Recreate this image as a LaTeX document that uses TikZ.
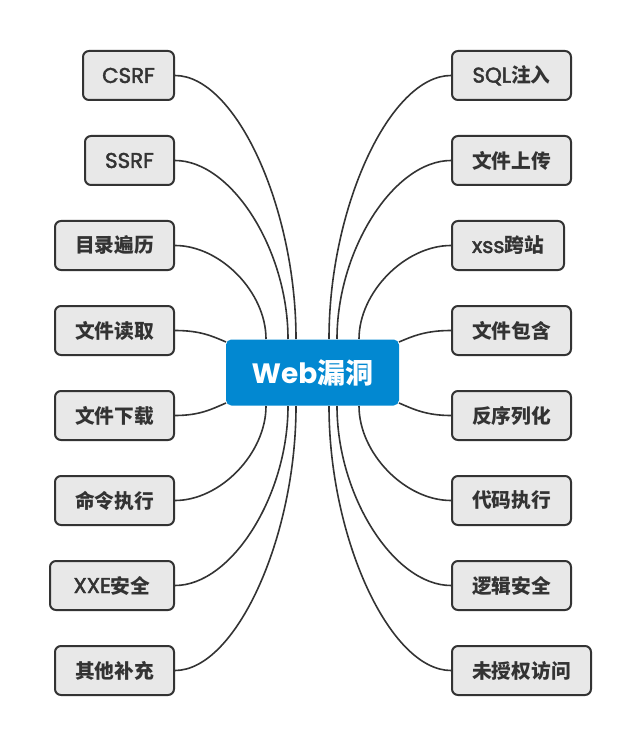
\documentclass[tikz,border=0pt]{standalone}
\usepackage{fontspec}
\newfontfamily\cjk{Noto Sans CJK SC}
\newfontfamily\lat{Poppins}
\newfontfamily\latm{Poppins}[Scale=1.08]
\definecolor{boxfill}{HTML}{E8E8E8}
\definecolor{boxline}{HTML}{333333}
\definecolor{hubblue}{HTML}{0288D1}
\newcommand{\zh}[1]{{\cjk\bfseries #1}}
\newcommand{\la}[1]{{\latm\special{pdf:literal direct 2 Tr 0.35 w}#1\special{pdf:literal direct 0 Tr}}}
\begin{document}
\begin{tikzpicture}[x=0.75pt,y=-0.75pt,
  leaf/.style={draw=boxline, fill=boxfill, line width=1.5pt, rounded corners=4.5pt,
    minimum height=36.75pt, inner sep=0pt, text=boxline, font=\fontsize{14.8}{17}\selectfont},
  hubbox/.style={fill=hubblue, rounded corners=4pt, minimum width=129.75pt, minimum height=49.5pt,
    inner sep=0pt, text=white, font=\fontsize{21}{24}\selectfont\bfseries},
  link/.style={draw=boxline, line width=1.2pt}]
\useasboundingbox (0,0) rectangle (640,745);
% left leaves
\node[leaf, minimum width=68.25pt, anchor=east] (csrf) at (175,75.5) {\la{CSRF}};
\node[leaf, minimum width=66.75pt, anchor=east] (ssrf) at (175,160.5) {\la{SSRF}};
\node[leaf, minimum width=89.25pt, anchor=east] (mulu) at (175,245.5) {\zh{目录遍历}};
\node[leaf, minimum width=89.25pt, anchor=east] (duqu) at (175,330.5) {\zh{文件读取}};
\node[leaf, minimum width=89.25pt, anchor=east] (xiazai) at (175,415.5) {\zh{文件下载}};
\node[leaf, minimum width=89.25pt, anchor=east] (mingling) at (175,500.5) {\zh{命令执行}};
\node[leaf, minimum width=93pt, anchor=east] (xxe) at (175,585.5) {\la{XXE}\zh{安全}};
\node[leaf, minimum width=89.25pt, anchor=east] (qita) at (175,670.5) {\zh{其他补充}};
% right leaves
\node[leaf, minimum width=89.25pt, anchor=west] (sql) at (451,75.5) {\la{SQL}\zh{注入}};
\node[leaf, minimum width=89.25pt, anchor=west] (shangchuan) at (451,160.5) {\zh{文件上传}};
\node[leaf, minimum width=84pt, anchor=west] (xss) at (451,245.5) {\la{xss}\zh{跨站}};
\node[leaf, minimum width=89.25pt, anchor=west] (baohan) at (451,330.5) {\zh{文件包含}};
\node[leaf, minimum width=89.25pt, anchor=west] (fanxu) at (451,415.5) {\zh{反序列化}};
\node[leaf, minimum width=89.25pt, anchor=west] (daima) at (451,500.5) {\zh{代码执行}};
\node[leaf, minimum width=89.25pt, anchor=west] (luoji) at (451,585.5) {\zh{逻辑安全}};
\node[leaf, minimum width=104.25pt, anchor=west] (weishouquan) at (451,670.5) {\zh{未授权访问}};
% attach points on hub
\coordinate (tl1) at (296,339);
\coordinate (tl2) at (288,339);
\coordinate (tl3) at (266,339);
\coordinate (sl1) at (226,342);
\coordinate (sl2) at (226,403);
\coordinate (bl3) at (266,406);
\coordinate (bl2) at (288,406);
\coordinate (bl1) at (296,406);
\coordinate (tr1) at (329,339);
\coordinate (tr2) at (337,339);
\coordinate (tr3) at (359,339);
\coordinate (sr1) at (399,342);
\coordinate (sr2) at (399,403);
\coordinate (br3) at (359,406);
\coordinate (br2) at (337,406);
\coordinate (br1) at (329,406);
% left links
\draw[link] (csrf.east) .. controls +(60.5,0) and +(0,-131.75) .. (tl1);
\draw[link] (ssrf.east) .. controls +(56.5,0) and +(0,-89.25) .. (tl2);
\draw[link] (mulu.east) .. controls +(45.5,0) and +(0,-46.75) .. (tl3);
\draw[link] (duqu.east) .. controls +(25,0) and +(-14,-6) .. (sl1);
\draw[link] (xiazai.east) .. controls +(25,0) and +(-14,6) .. (sl2);
\draw[link] (mingling.east) .. controls +(45.5,0) and +(0,47.25) .. (bl3);
\draw[link] (xxe.east) .. controls +(56.5,0) and +(0,89.75) .. (bl2);
\draw[link] (qita.east) .. controls +(60.5,0) and +(0,132.25) .. (bl1);
% right links
\draw[link] (sql.west) .. controls +(-61,0) and +(0,-131.75) .. (tr1);
\draw[link] (shangchuan.west) .. controls +(-57,0) and +(0,-89.25) .. (tr2);
\draw[link] (xss.west) .. controls +(-46,0) and +(0,-46.75) .. (tr3);
\draw[link] (baohan.west) .. controls +(-25,0) and +(14,-6) .. (sr1);
\draw[link] (fanxu.west) .. controls +(-25,0) and +(14,6) .. (sr2);
\draw[link] (daima.west) .. controls +(-46,0) and +(0,47.25) .. (br3);
\draw[link] (luoji.west) .. controls +(-57,0) and +(0,89.75) .. (br2);
\draw[link] (weishouquan.west) .. controls +(-61,0) and +(0,132.25) .. (br1);
% hub
\node[hubbox] (hub) at (312.5,372.5) {{\lat Web}{\cjk 漏洞}};
\end{tikzpicture}
\end{document}
